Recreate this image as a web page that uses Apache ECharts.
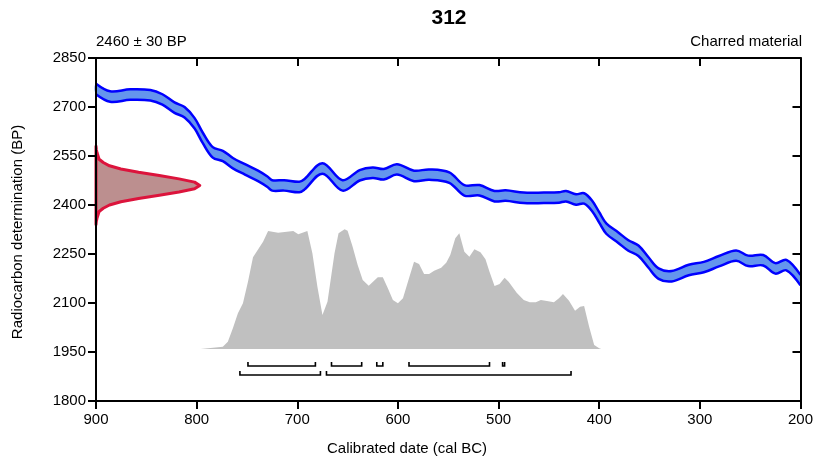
<!DOCTYPE html>
<html><head><meta charset="utf-8">
<script src="https://cdn.jsdelivr.net/npm/echarts@6.0.0/dist/echarts.min.js"></script>
<style>html,body{margin:0;padding:0;background:#fff}#c{width:816px;height:461px}</style>
</head><body><div id="c"></div>
<script>
// ---- data ----
const titleText = '312';
const measurementLabel = '2460 ± 30 BP';
const materialLabel = 'Charred material';
const xTicks = [900, 800, 700, 600, 500, 400, 300, 200];
const yTicks = [1800, 1950, 2100, 2250, 2400, 2550, 2700, 2850];

// calibration curve (cal BC year, mean BP, 1-sigma BP)
const curveYears = [900,886,866,846,834,822,812,802,794,784,774,764,752,739,730,725,713,698,693,675,655,638,625,614,601,584,569,549,534,519,504,493,475,455,440,433,423,415,407,400,393,381,371,361,351,341,328,311,296,281,264,252,237,225,214,200];
const curveMean  = [2755,2732,2738,2736,2723,2698,2684,2650,2606,2561,2550,2528,2509,2489,2472,2460,2460,2455,2463,2512,2460,2491,2499,2494,2509,2489,2493,2484,2445,2445,2427,2429,2422,2422,2423,2427,2417,2420,2397,2362,2328,2300,2276,2260,2224,2190,2182,2201,2210,2228,2245,2229,2231,2206,2216,2170];
const curveSigma = [16,16,16,16,16,16,16,16,16,16,16,16,16,16,16,16,16,16,16,16,16,16,16,16,16,16,16,16,16,16,16,16,16,16,16,16,16,16,16,16,16,16,16,16,16,16,16,16,16,16,16,16,16,16,16,16];

// measurement distribution (BP, relative density)
const gaussBP      = [2340,2350,2360,2370,2380,2390,2400,2410,2420,2430,2440,2450,2460,2470,2480,2490,2500,2510,2520,2530,2540,2550,2560,2570,2580];
const gaussDensity = [0,0.003,0.01,0.02,0.03,0.07,0.13,0.24,0.41,0.61,0.80,0.95,1.0,0.95,0.80,0.61,0.41,0.24,0.13,0.07,0.03,0.02,0.01,0.003,0];

// calibrated probability (cal BC year, relative probability)
const probYears = [796,774,769,764,759,754,749,744,734,729,719,704,699,690,685,680,675,670,663,659,653,650,645,640,635,629,620,615,610,605,600,595,589,584,579,574,569,564,557,552,548,543,539,534,529,524,518,513,509,504,499,494,490,482,475,469,463,458,452,445,440,436,430,424,419,415,410,405,400,398];
const probValues = [0,0.019,0.061,0.172,0.297,0.381,0.561,0.764,0.894,0.983,0.969,0.983,0.956,0.983,0.797,0.519,0.283,0.394,0.797,0.964,0.997,0.986,0.853,0.700,0.575,0.528,0.598,0.598,0.506,0.408,0.381,0.422,0.589,0.728,0.708,0.625,0.625,0.653,0.678,0.719,0.783,0.922,0.964,0.811,0.769,0.831,0.806,0.748,0.644,0.525,0.542,0.594,0.561,0.469,0.408,0.389,0.389,0.408,0.400,0.389,0.423,0.458,0.403,0.319,0.353,0.358,0.186,0.033,0.006,0];

// highest probability ranges (cal BC)
const range68 = [[749,682],[666,636],[621,615],[589,509],[496,494]];
const range95 = [[757,677],[671,428]];

// ---- chart ----
const FONT = '"Liberation Sans", Arial, sans-serif';
const chart = echarts.init(document.getElementById('c'), null, {renderer: 'canvas'});

const probData = probYears.map((y, i) => [y, probValues[i]]);
const rangeData = range68.map(r => [r[0], r[1], 0]).concat(range95.map(r => [r[0], r[1], 1]));

const axisLineStyle = {color: '#000', width: 2};
const baseX = {type: 'value', min: 200, max: 900, interval: 100, inverse: true, z: 10,
  splitLine: {show: false}, axisLine: {onZero: false, lineStyle: axisLineStyle}};
const baseY = {type: 'value', min: 1800, max: 2850, interval: 150, z: 10,
  splitLine: {show: false}, axisLine: {onZero: false, lineStyle: axisLineStyle}};
const plainNum = v => String(v);

chart.setOption({
  animation: false,
  backgroundColor: '#fff',
  grid: {left: 96, right: 14, top: 58, bottom: 60, containLabel: false},
  xAxis: [
    Object.assign({}, baseX, {position: 'bottom',
      axisTick: {length: 8, lineStyle: {color: '#000', width: 2}},
      axisLabel: {color: '#000', fontSize: 15, fontFamily: FONT, margin: 11, formatter: plainNum}}),
    Object.assign({}, baseX, {position: 'top',
      axisTick: {inside: true, length: 8, lineStyle: {color: '#000', width: 2}},
      axisLabel: {show: false}}),
    {type: 'value', min: 0, max: 706 / 104, show: false, axisLine: {onZero: false}}
  ],
  yAxis: [
    Object.assign({}, baseY, {position: 'left',
      axisTick: {length: 8, lineStyle: {color: '#000', width: 2}},
      axisLabel: {color: '#000', fontSize: 15, fontFamily: FONT, margin: 10, formatter: plainNum}}),
    Object.assign({}, baseY, {position: 'right',
      axisTick: {inside: true, length: 8, lineStyle: {color: '#000', width: 2}},
      axisLabel: {show: false}}),
    {type: 'value', min: -52 / 120, max: 291 / 120, show: false, axisLine: {onZero: false}}
  ],
  graphic: [
    {type: 'text', x: 449, y: 18, style: {text: titleText, font: 'bold 21px ' + FONT, fill: '#000', align: 'center', verticalAlign: 'middle'}},
    {type: 'text', x: 96, y: 42, style: {text: measurementLabel, font: '15px ' + FONT, fill: '#000', align: 'left', verticalAlign: 'middle'}},
    {type: 'text', x: 802, y: 42, style: {text: materialLabel, font: '15px ' + FONT, fill: '#000', align: 'right', verticalAlign: 'middle'}},
    {type: 'text', x: 407, y: 449, style: {text: 'Calibrated date (cal BC)', font: '15px ' + FONT, fill: '#000', align: 'center', verticalAlign: 'middle'}},
    {type: 'text', x: 18, y: 232, rotation: Math.PI / 2, style: {text: 'Radiocarbon determination (BP)', font: '15px ' + FONT, fill: '#000', align: 'center', verticalAlign: 'middle'}}
  ],
  series: [
    {
      name: 'prob', type: 'line', xAxisIndex: 0, yAxisIndex: 2, data: probData,
      showSymbol: false, symbol: 'none', lineStyle: {width: 0},
      areaStyle: {color: '#C0C0C0', opacity: 1}, z: 1, silent: true
    },
    {
      name: 'curve', type: 'custom', xAxisIndex: 0, yAxisIndex: 0, data: [[900, 2755]], z: 3, silent: true,
      renderItem: function (params, api) {
        const upper = curveYears.map((y, i) => api.coord([y, curveMean[i] + curveSigma[i]]));
        const lower = curveYears.map((y, i) => api.coord([y, curveMean[i] - curveSigma[i]]));
        const poly = upper.concat(lower.slice().reverse());
        const sm = 0.35;
        return {type: 'group', children: [
          {type: 'polygon', shape: {points: poly, smooth: sm}, style: {fill: '#6495ED', stroke: null}},
          {type: 'polyline', shape: {points: upper, smooth: sm}, style: {stroke: '#0000FF', lineWidth: 2.5, fill: null}},
          {type: 'polyline', shape: {points: lower, smooth: sm}, style: {stroke: '#0000FF', lineWidth: 2.5, fill: null}}
        ]};
      }
    },
    {
      name: 'gauss', type: 'custom', xAxisIndex: 2, yAxisIndex: 0, data: [[0, 0]], z: 5, silent: true,
      renderItem: function (params, api) {
        const pts = gaussBP.map((bp, i) => api.coord([gaussDensity[i], bp]));
        return {type: 'polygon', shape: {points: pts},
          style: {fill: '#BC8F8F', stroke: '#DC143C', lineWidth: 3, lineJoin: 'round'}};
      }
    },
    {
      name: 'ranges', type: 'custom', xAxisIndex: 0, yAxisIndex: 0, data: rangeData, z: 5, silent: true,
      renderItem: function (params, api) {
        const a = api.coord([api.value(0), 1950]);
        const b = api.coord([api.value(1), 1950]);
        const y = a[1] + 14 + api.value(2) * 9;
        return {type: 'polyline', shape: {points: [[a[0], y - 4], [a[0], y], [b[0], y], [b[0], y - 4]]},
          style: {stroke: '#000', lineWidth: 1.6, fill: null}};
      }
    }
  ]
});
</script>
</body></html>
